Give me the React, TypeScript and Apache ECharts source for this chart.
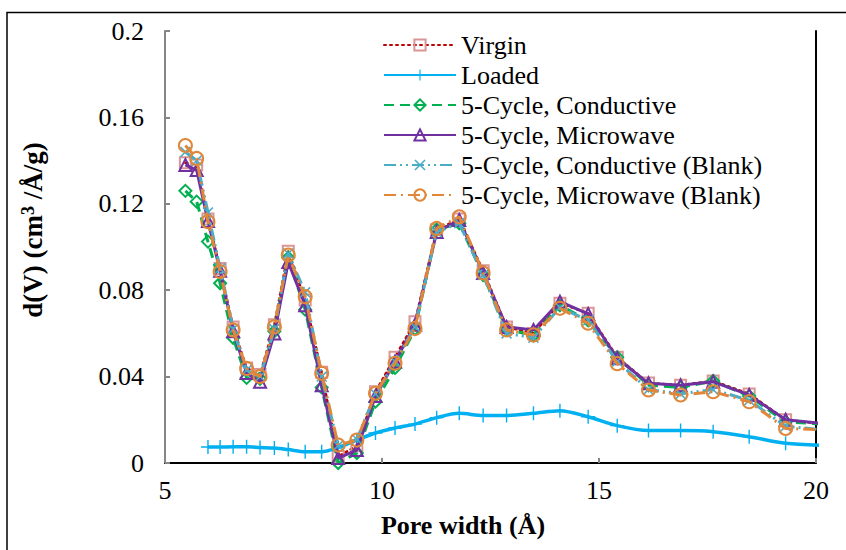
import React, { useEffect, useRef } from "react";
import * as echarts from "echarts";

const poreWidth = [5.47, 5.73, 5.99, 6.27, 6.57, 6.88, 7.19, 7.52, 7.84, 8.23, 8.61, 8.99, 9.42, 9.85, 10.3, 10.76, 11.26, 11.78, 12.33, 12.87, 13.49, 14.1, 14.75, 15.42, 16.14, 16.88, 17.63, 18.46, 19.3, 20.2];

const virgin = [0.139, 0.138, 0.113, 0.09, 0.063, 0.044, 0.041, 0.064, 0.098, 0.0755, 0.042, 0.003, 0.008, 0.033, 0.049, 0.0654, 0.108, 0.113, 0.089, 0.063, 0.06, 0.074, 0.0693, 0.049, 0.037, 0.036, 0.038, 0.032, 0.02, 0.018];
const loaded = [null, null, 0.0074, 0.0074, 0.0075, 0.0075, 0.0072, 0.0069, 0.0062, 0.0052, 0.0052, 0.0072, 0.0106, 0.0139, 0.0162, 0.018, 0.021, 0.023, 0.022, 0.022, 0.023, 0.0242, 0.0214, 0.0173, 0.015, 0.015, 0.0145, 0.0122, 0.0091, 0.0082];
const cond = [0.126, 0.121, 0.1025, 0.0832, 0.058, 0.0394, 0.039, 0.061, 0.095, 0.071, 0.035, 0.0, 0.0046, 0.0284, 0.044, 0.062, 0.108, 0.111, 0.087, 0.062, 0.059, 0.073, 0.066, 0.049, 0.036, 0.035, 0.038, 0.031, 0.019, 0.018];
const micro = [0.138, 0.1356, 0.112, 0.089, 0.061, 0.0417, 0.0376, 0.06, 0.093, 0.073, 0.036, 0.0023, 0.006, 0.031, 0.047, 0.064, 0.107, 0.1125, 0.088, 0.063, 0.0616, 0.0747, 0.069, 0.0485, 0.0369, 0.036, 0.0376, 0.0315, 0.02, 0.0182];
const condBlank = [0.144, 0.14, 0.116, 0.09, 0.062, 0.043, 0.04, 0.062, 0.097, 0.079, 0.04, 0.008, 0.011, 0.032, 0.047, 0.063, 0.107, 0.111, 0.087, 0.06, 0.058, 0.072, 0.066, 0.047, 0.034, 0.032, 0.034, 0.029, 0.017, 0.0153];
const microBlank = [0.147, 0.141, 0.1117, 0.0886, 0.0616, 0.0438, 0.04, 0.0631, 0.0963, 0.077, 0.0415, 0.0083, 0.0106, 0.0323, 0.0462, 0.0623, 0.1086, 0.114, 0.088, 0.0616, 0.0593, 0.0716, 0.0647, 0.046, 0.0338, 0.0315, 0.033, 0.0284, 0.016, 0.0153];

const seriesNames = ["Virgin", "Loaded", "5-Cycle, Conductive", "5-Cycle, Microwave", "5-Cycle, Conductive (Blank)", "5-Cycle, Microwave (Blank)"];
const xTicks = [5, 10, 15, 20];
const yTicks = [0, 0.04, 0.08, 0.12, 0.16, 0.2];

const FONT = "Liberation Serif";

function pairs(ys: (number | null)[]) {
  return poreWidth.map((x, i) => [x, ys[i]]).filter((p) => p[1] !== null);
}

const PLUS = "path://M-1,-10 L1,-10 L1,10 L-1,10 Z M-10,-1 L10,-1 L10,1 L-10,1 Z";
const CROSS = "path://M-10,-8 L-8,-10 L0,-2 L8,-10 L10,-8 L2,0 L10,8 L8,10 L0,2 L-8,10 L-10,8 L-2,0 Z";

export default function App() {
  const ref = useRef<HTMLDivElement>(null);
  useEffect(() => {
    if (!ref.current) return;
    const chart = echarts.init(ref.current, null, { renderer: "svg" });
    const hollow = (c: string) => ({ color: "transparent", borderColor: c, borderWidth: 2 });
    const option: any = {
      animation: false,
      backgroundColor: "#fff",
      textStyle: { fontFamily: FONT },
      grid: { left: 165, right: 30, top: 31, bottom: 87, containLabel: false },
      legend: {
        orient: "vertical",
        left: 378,
        top: 27,
        itemWidth: 72,
        itemHeight: 14,
        itemGap: 4,
        data: seriesNames,
        textStyle: { fontFamily: FONT, fontSize: 26, color: "#000" },
      },
      xAxis: [
        {
          type: "value",
          min: xTicks[0],
          max: xTicks[xTicks.length - 1],
          interval: 5,
          axisLine: { lineStyle: { color: "#868686", width: 2 } },
          axisTick: { inside: true, length: 5, lineStyle: { color: "#868686", width: 2 } },
          axisLabel: { fontFamily: FONT, fontSize: 26, color: "#000", margin: 14 },
          splitLine: { show: false },
        },
        {
          type: "value",
          position: "top",
          min: 5,
          max: 20,
          axisLine: { show: true, lineStyle: { color: "#000", width: 2 } },
          axisTick: { show: false },
          axisLabel: { show: false },
          splitLine: { show: false },
        },
      ],
      yAxis: [
        {
          type: "value",
          min: yTicks[0],
          max: yTicks[yTicks.length - 1],
          interval: 0.04,
          axisLine: { show: true, lineStyle: { color: "#868686", width: 2 } },
          axisTick: { show: true, inside: true, length: 5, lineStyle: { color: "#868686", width: 2 } },
          axisLabel: {
            fontFamily: FONT,
            fontSize: 26,
            color: "#000",
            margin: 21,
            formatter: (v: number) => String(+v.toFixed(2)),
          },
          splitLine: { show: false },
        },
        {
          type: "value",
          position: "right",
          min: 0,
          max: 0.2,
          axisLine: { show: true, lineStyle: { color: "#000", width: 2 } },
          axisTick: { show: false },
          axisLabel: { show: false },
          splitLine: { show: false },
        },
      ],
      graphic: [
        {
          type: "rect",
          shape: { x: 7, y: 12.5, width: 900, height: 700 },
          style: { fill: "none", stroke: "#000", lineWidth: 1.5 },
          silent: true,
          z: -1,
        },
        {
          type: "text",
          x: 463,
          y: 525,
          style: {
            text: "Pore width (Å)",
            align: "center",
            verticalAlign: "middle",
            fontFamily: FONT,
            fontSize: 26,
            fontWeight: "bold",
            fill: "#000",
          },
        },
        {
          type: "text",
          x: 33,
          y: 230,
          rotation: Math.PI / 2,
          style: {
            text: "{b|d(V) (cm}{s|3}{b| /Å/g)}",
            align: "center",
            verticalAlign: "middle",
            rich: {
              b: { fontFamily: FONT, fontSize: 27, fontWeight: "bold", fill: "#000" },
              s: { fontFamily: FONT, fontSize: 18, fontWeight: "bold", fill: "#000", verticalAlign: "top", padding: [0, 0, 10, 0] },
            },
          },
        },
      ],
      series: [
        {
          name: seriesNames[0],
          type: "line",
          data: pairs(virgin),
          symbol: "rect",
          symbolSize: 11,
          itemStyle: hollow("#D99694"),
          lineStyle: { color: "#C00000", width: 2.5, type: [2, 4], cap: "round" },
          z: 2,
        },
        {
          name: seriesNames[1],
          type: "line",
          data: pairs(loaded),
          smooth: 0.3,
          symbol: PLUS,
          symbolSize: 14,
          itemStyle: { color: "#00B0F0" },
          lineStyle: { color: "#00B0F0", width: 3.5 },
          z: 3,
        },
        {
          name: seriesNames[2],
          type: "line",
          data: pairs(cond),
          symbol: "diamond",
          symbolSize: 12,
          itemStyle: hollow("#00B050"),
          lineStyle: { color: "#00B050", width: 3, type: [10, 6] },
          z: 4,
        },
        {
          name: seriesNames[3],
          type: "line",
          data: pairs(micro),
          symbol: "triangle",
          symbolSize: 12,
          itemStyle: hollow("#7030A0"),
          lineStyle: { color: "#7030A0", width: 3 },
          z: 5,
        },
        {
          name: seriesNames[4],
          type: "line",
          data: pairs(condBlank),
          symbol: CROSS,
          symbolSize: 11,
          itemStyle: { color: "#4BACC6" },
          lineStyle: { color: "#4BACC6", width: 3, type: [12, 4, 2, 4, 2, 4] },
          z: 6,
        },
        {
          name: seriesNames[5],
          type: "line",
          data: pairs(microBlank),
          symbol: "circle",
          symbolSize: 13,
          itemStyle: hollow("#E0873A"),
          lineStyle: { color: "#E0873A", width: 3, type: [12, 5, 2, 5] },
          z: 7,
        },
      ],
    };
    chart.setOption(option);
    return () => chart.dispose();
  }, []);
  return <div ref={ref} style={{ position: "fixed", left: 0, top: 0, width: 846, height: 550 }} />;
}
